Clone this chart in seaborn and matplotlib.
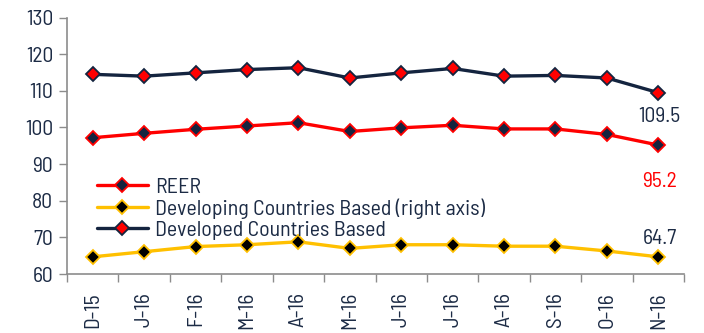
import matplotlib
matplotlib.use("Agg")
import matplotlib.pyplot as plt
import seaborn as sns
import pandas as pd
import numpy as np

months = ["D-15", "J-16", "F-16", "M-16", "A-16", "M-16", "J-16", "J-16", "A-16", "S-16", "O-16", "N-16"]
reer = [97.2, 98.4, 99.5, 100.4, 101.3, 98.9, 99.9, 100.6, 99.6, 99.6, 98.1, 95.2]
developing = [64.7, 66.1, 67.5, 68.0, 68.8, 67.0, 68.0, 68.0, 67.6, 67.6, 66.3, 64.7]
developed = [114.5, 114.0, 114.9, 115.8, 116.3, 113.5, 114.9, 116.1, 114.0, 114.2, 113.5, 109.5]

sns.set_style("white")
plt.rcParams["font.family"] = ["Barlow Semi Condensed", "DejaVu Sans"]

NAVY = "#14243f"
RED = "#ff0000"
YELLOW = "#ffc000"
TXT = "#1c2b45"
FS = 15.5

df = pd.DataFrame({"pos": np.arange(len(months)), "REER": reer,
                   "Developing": developing, "Developed": developed})

fig = plt.figure(figsize=(7.04, 3.33), dpi=100)
ax = fig.add_axes([0.0952, 0.177, 0.8764, 0.7704])

series = [
    ("REER", "REER", RED, NAVY, RED),
    ("Developing", "Developing Countries Based (right axis)", YELLOW, "black", YELLOW),
    ("Developed", "Developed Countries Based", NAVY, RED, NAVY),
]
for col, label, lc, mfc, mec in series:
    sns.lineplot(data=df, x="pos", y=col, ax=ax, color=lc, linewidth=2.4,
                 marker="D", markersize=7.5, markerfacecolor=mfc,
                 markeredgecolor=mec, markeredgewidth=1.3, label=label)

ax.set_xlim(-0.5, len(months) - 0.5)
ax.set_ylim(60, 130)
ax.set_yticks(range(60, 131, 10))
ax.set_xticks(np.arange(len(months)))
ax.set_xticklabels(months, rotation=90)
ax.set_xticks(np.arange(-0.5, len(months)), minor=True)
ax.tick_params(axis="x", which="major", length=0, pad=13, labelsize=FS, labelcolor=TXT)
ax.tick_params(axis="x", which="minor", length=6, width=1, color="#8c8c8c", direction="out", bottom=True)
ax.tick_params(axis="y", length=6, width=1, color="#8c8c8c", direction="out", left=True,
               labelsize=FS, labelcolor=TXT, pad=4)
ax.set_xlabel("")
ax.set_ylabel("")
for s in ["top", "right"]:
    ax.spines[s].set_visible(False)
for s in ["left", "bottom"]:
    ax.spines[s].set_color("#8c8c8c")
    ax.spines[s].set_linewidth(1.2)

# end-point value labels
last = len(months) - 1
ax.annotate(f"{developed[-1]:.1f}", (last, developed[-1]), xytext=(1, -17), textcoords="offset points",
            ha="center", va="center", fontsize=FS, color=TXT)
ax.annotate(f"{reer[-1]:.1f}", (last, reer[-1]), xytext=(1, -26), textcoords="offset points",
            ha="center", va="center", fontsize=FS, color=RED)
ax.annotate(f"{developing[-1]:.1f}", (last, developing[-1]), xytext=(1, 13), textcoords="offset points",
            ha="center", va="center", fontsize=FS, color=TXT)

leg = ax.legend(loc="upper left", bbox_to_anchor=(0.048, 0.376), frameon=False, fontsize=15.8,
                handlelength=2.35, handletextpad=0.3, labelspacing=0.07, borderaxespad=0,
                borderpad=0)
for t in leg.get_texts():
    t.set_color(TXT)

fig.savefig("out.png", dpi=100)
